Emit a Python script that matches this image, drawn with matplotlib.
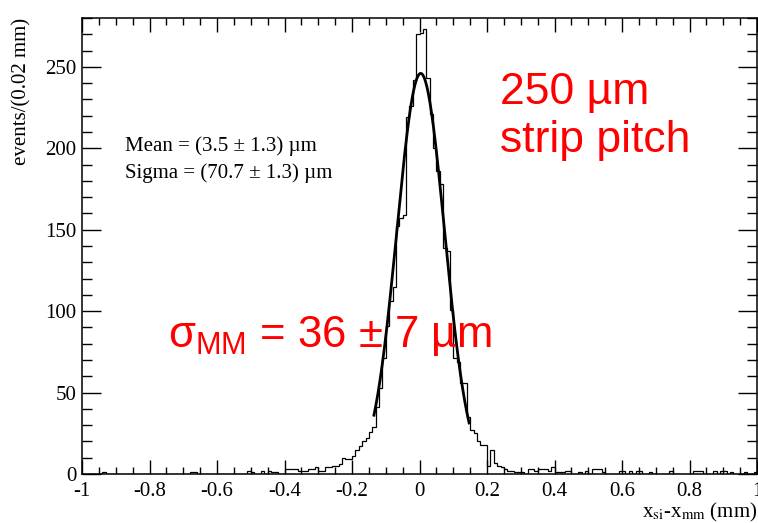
import numpy as np
import matplotlib
matplotlib.use('Agg')
import matplotlib.pyplot as plt
from matplotlib.ticker import MultipleLocator, FixedLocator

plt.rcParams['font.family'] = 'Liberation Serif'
plt.rcParams['axes.unicode_minus'] = False
plt.rcParams['mathtext.fontset'] = 'custom'
plt.rcParams['mathtext.rm'] = 'Liberation Sans'

# Histogram: 200 bins of 0.01 mm between -1 and 1 mm
x_lo, x_hi, n_bins = -1.0, 1.0, 200
counts = [
    0, 0, 0, 0, 0, 0, 1, 0, 0, 0,   0, 0, 0, 0, 0, 0, 0, 0, 0, 0,
    0, 0, 0, 0, 0, 0, 0, 0, 0, 0,   0, 0, 1, 1, 0, 0, 0, 0, 0, 0,
    0, 0, 0, 0, 0, 0, 0, 0, 0, 2,   1, 0, 0, 2, 0, 2, 1, 1, 0, 0,
    3, 3, 3, 3, 2, 2, 2, 3, 3, 4,   2, 2, 4, 4, 5, 5, 6, 10, 9, 9,
    11, 15, 17, 20, 22, 26, 29, 41, 53, 71,
    91, 106, 115, 152, 157, 159, 219, 226, 242, 270,
    271, 273, 243, 221, 200, 186, 178, 139, 137, 101,
    71, 69, 56, 56, 35, 27, 25, 20, 18, 18,
    5, 15, 7, 5, 4, 3, 2, 2, 1, 1,   1, 0, 3, 3, 2, 3, 3, 3, 2, 4,
    1, 1, 1, 2, 2, 0, 0, 1, 0, 2,   0, 3, 3, 3, 1, 0, 0, 0, 0, 2,
    2, 0, 2, 0, 2, 2, 0, 0, 1, 0,   0, 0, 0, 0, 2, 0, 0, 0, 0, 0,
    0, 2, 2, 2, 0, 0, 0, 2, 0, 2,   2, 0, 1, 0, 0, 0, 1, 0, 0, 1,
]

# Gaussian fit (mm)
fit_const = 246.0
fit_mean = 0.0035
fit_sigma = 0.0707
fit_range = (-0.135, 0.147)

x_ticks = [-1, -0.8, -0.6, -0.4, -0.2, 0, 0.2, 0.4, 0.6, 0.8, 1]
x_tick_labels = ['-1', '-0.8', '-0.6', '-0.4', '-0.2', '0',
                 '0.2', '0.4', '0.6', '0.8', '1']
y_ticks = [0, 50, 100, 150, 200, 250]

fig = plt.figure(figsize=(7.58, 5.23), dpi=100)
ax = fig.add_axes([82/758, 1-474/523, 675/758, 456/523])

edges = np.linspace(x_lo, x_hi, n_bins + 1)
ax.stairs(counts, edges, color='k', linewidth=0.9, baseline=0)

xf = np.linspace(fit_range[0], fit_range[1], 300)
yf = fit_const*np.exp(-0.5*((xf - fit_mean)/fit_sigma)**2)
ax.plot(xf, yf, color='k', linewidth=2.0)

# Formatting (ROOT look)
ax.set_xlim(-1, 1)
ax.set_ylim(0, 280)
ax.xaxis.set_major_locator(FixedLocator(x_ticks))
ax.set_xticklabels(x_tick_labels)
ax.xaxis.set_minor_locator(MultipleLocator(0.05))
ax.yaxis.set_major_locator(FixedLocator(y_ticks))
ax.yaxis.set_minor_locator(MultipleLocator(10))
ax.tick_params(which='both', direction='in', top=True, right=True,
               labelsize=15, width=1.0)
ax.tick_params(axis='x', which='major', length=10, pad=6)
ax.tick_params(axis='x', which='minor', length=5)
ax.tick_params(axis='y', which='major', length=14, pad=4)
ax.tick_params(axis='y', which='minor', length=7)
for s in ax.spines.values():
    s.set_linewidth(1.1)

fig.text(22/758, 1-18/523, 'events/(0.02 mm)', rotation=90,
         ha='center', va='top', fontsize=15)
fig.text(757/758, 1-512/523, r'x$_{\mathrm{si}}$-x$_{\mathrm{mm}}$ (mm)',
         ha='right', va='center', fontsize=15, math_fontfamily='stix')

fig.text(125/758, 1-151/523, 'Mean = (3.5 ± 1.3) µm', fontsize=15,
         va='baseline', ha='left')
fig.text(125/758, 1-178/523, 'Sigma = (70.7 ± 1.3) µm', fontsize=15,
         va='baseline', ha='left')

fig.text(500/758, 1-104/523, '250 µm', color='red', fontsize=32,
         family='Liberation Sans', va='baseline', ha='left')
fig.text(500/758, 1-152/523, 'strip pitch', color='red', fontsize=32,
         family='Liberation Sans', va='baseline', ha='left')
fig.text(168/758, 1-347/523, r'σ$_{\mathrm{MM}}$ = 36 ± 7 µm', color='red',
         fontsize=31.5, family='Liberation Sans', va='baseline', ha='left',
         math_fontfamily='custom')

plt.savefig('out.png', dpi=100)
plt.close('all')
